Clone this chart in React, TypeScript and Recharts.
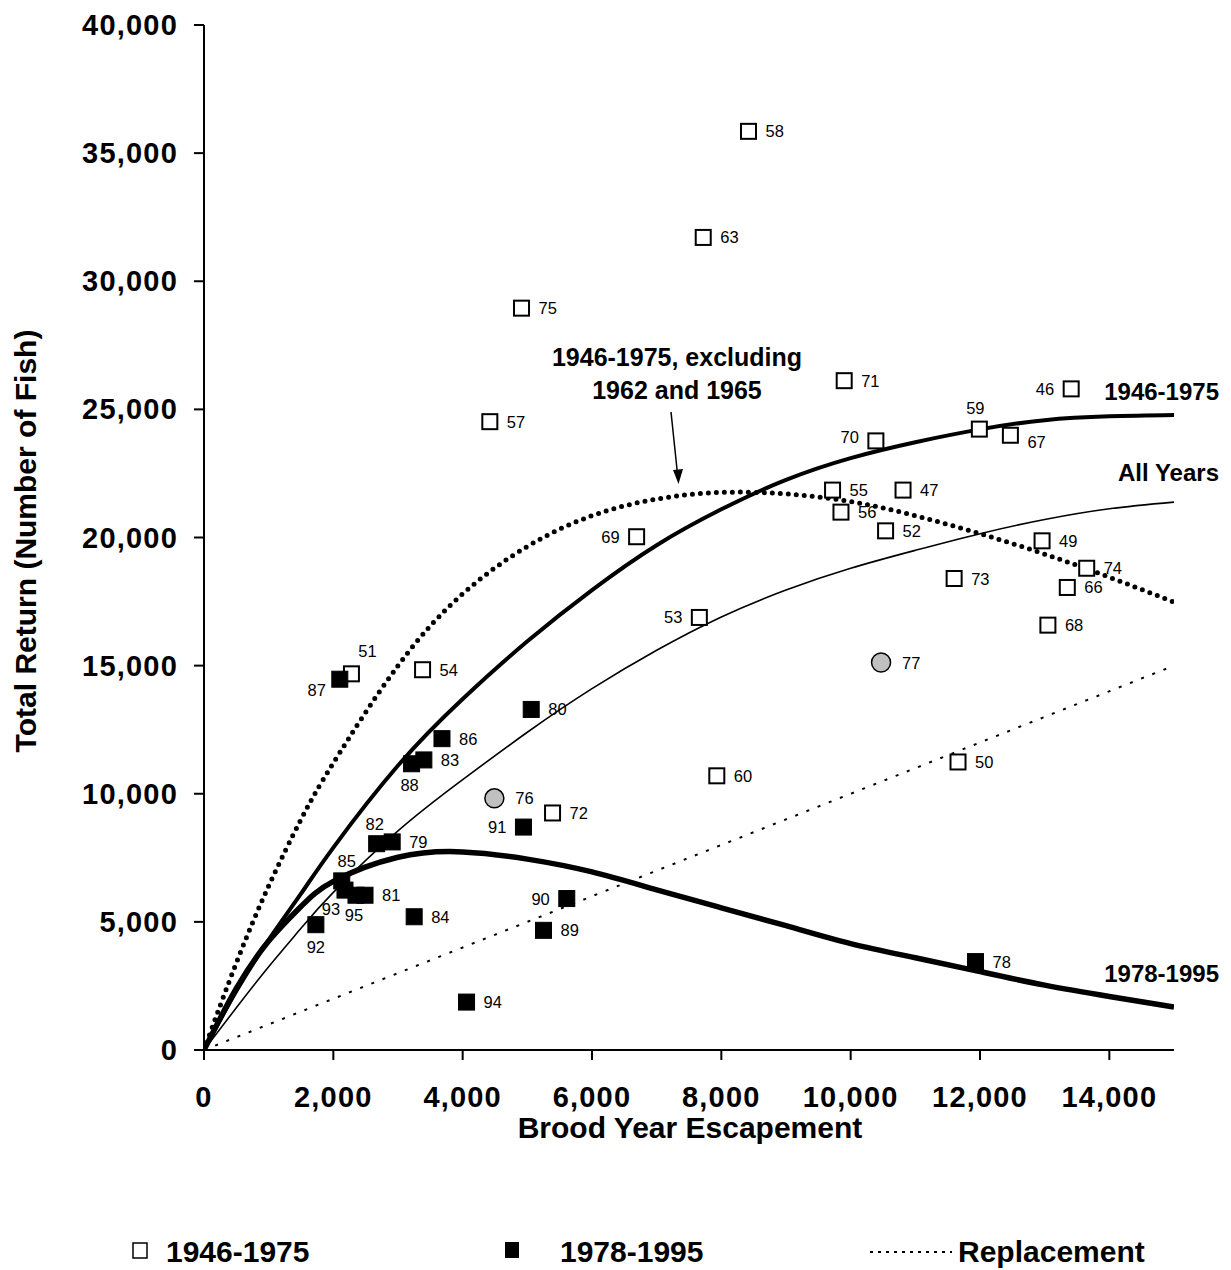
import { ComposedChart, Line, Scatter, XAxis, YAxis } from "recharts";

const FONT = "'Liberation Sans', Arial, sans-serif";

// 1946-1975 brood years (open squares)
const earlyYears = ["46", "47", "49", "50", "51", "52", "53", "54", "55", "56", "57", "58", "59", "60", "63", "66", "67", "68", "69", "70", "71", "72", "73", "74", "75"];
const earlyEscapement = [13410, 10810, 12960, 11660, 2280, 10540, 7660, 3380, 9720, 9850, 4420, 8420, 11990, 7930, 7720, 13350, 12470, 13050, 6690, 10390, 9900, 5390, 11600, 13650, 4910];
const earlyReturn = [25800, 21850, 19870, 11240, 14680, 20260, 16880, 14840, 21850, 20990, 24520, 35850, 24230, 10700, 31710, 18050, 23990, 16580, 20030, 23770, 26120, 9250, 18400, 18800, 28950];

// 1978-1995 brood years (filled squares)
const lateYears = ["78", "79", "80", "81", "82", "83", "84", "85", "86", "87", "88", "89", "90", "91", "92", "93", "94", "95"];
const lateEscapement = [11930, 2910, 5060, 2490, 2670, 3400, 3250, 2130, 3680, 2100, 3210, 5250, 5610, 4940, 1730, 2180, 4060, 2350];
const lateReturn = [3450, 8120, 13290, 6040, 8050, 11320, 5200, 6600, 12150, 14470, 11170, 4670, 5910, 8700, 4890, 6240, 1870, 6040];

// 1976-1977 (grey circles)
const midYears = ["76", "77"];
const midEscapement = [4490, 10470];
const midReturn = [9820, 15120];

// fitted curves
const curveEscapement = [0, 500, 1000, 1500, 2000, 3000, 4000, 5000, 6000, 7000, 8000, 9000, 10000, 11000, 12000, 13000, 14000, 15000];
const fitEarly = [0, 2300, 4300, 6100, 7900, 11100, 13700, 15950, 17950, 19700, 21100, 22250, 23100, 23720, 24220, 24580, 24730, 24780];
const fitAll = [0, 1650, 3250, 4750, 6150, 8550, 10550, 12400, 14100, 15600, 16900, 17950, 18800, 19500, 20150, 20700, 21120, 21380];
const fitExcluding = [0, 3400, 6400, 9000, 11200, 15000, 17800, 19650, 20850, 21500, 21760, 21700, 21400, 20850, 20150, 19350, 18450, 17480];
const fitLate = [0, 2400, 4250, 5600, 6580, 7520, 7730, 7450, 6950, 6250, 5550, 4850, 4150, 3600, 3060, 2530, 2090, 1680];

const replacementX = [0, 15000];
const replacementY = [0, 15000];

const xTicks = [0, 2000, 4000, 6000, 8000, 10000, 12000, 14000];
const yTicks = [0, 5000, 10000, 15000, 20000, 25000, 30000, 35000, 40000];

const toPoints = (names: string[], xs: number[], ys: number[]) =>
  xs.map((x, i) => ({ year: names[i], x, y: ys[i] }));
const toCurve = (xs: number[], ys: number[]) => xs.map((x, i) => ({ x, y: ys[i] }));

// where the year label sits relative to its marker
type Spot = { dx: number; dy: number; anchor: "start" | "middle" | "end" };
const LEFT: Spot = { dx: -17, dy: 6, anchor: "end" };
const labelSpots: Record<string, Spot> = {
  "51": { dx: 16, dy: -17, anchor: "middle" },
  "87": { dx: -23, dy: 17, anchor: "middle" },
  "88": { dx: -2, dy: 27, anchor: "middle" },
  "82": { dx: -2, dy: -14, anchor: "middle" },
  "85": { dx: 5, dy: -14, anchor: "middle" },
  "93": { dx: -14, dy: 25, anchor: "middle" },
  "95": { dx: -2, dy: 26, anchor: "middle" },
  "92": { dx: 0, dy: 28, anchor: "middle" },
  "59": { dx: -4, dy: -15, anchor: "middle" },
  "67": { dx: 17, dy: 13, anchor: "start" },
  "70": { dx: -17, dy: 2, anchor: "end" },
  "46": LEFT,
  "69": LEFT,
  "53": LEFT,
  "91": LEFT,
  "90": LEFT,
};

const YearLabel = ({ cx, cy, year, gap }: { cx: number; cy: number; year: string; gap: number }) => {
  const s = labelSpots[year] ?? { dx: gap, dy: 6, anchor: "start" };
  return (
    <text x={cx + s.dx} y={cy + s.dy} textAnchor={s.anchor} fontFamily={FONT} fontSize={16.5} fill="#000">
      {year}
    </text>
  );
};

const OpenSquare = (props: any) => {
  const { cx, cy, payload } = props;
  return (
    <g>
      <rect x={cx - 7.5} y={cy - 7.5} width={15} height={15} fill="#fff" stroke="#000" strokeWidth={2} />
      <YearLabel cx={cx} cy={cy} year={payload.year} gap={17} />
    </g>
  );
};

const FilledSquare = (props: any) => {
  const { cx, cy, payload } = props;
  return (
    <g>
      <rect x={cx - 8} y={cy - 8} width={16} height={16} fill="#000" stroke="#000" strokeWidth={1} />
      <YearLabel cx={cx} cy={cy} year={payload.year} gap={17} />
    </g>
  );
};

const GreyCircle = (props: any) => {
  const { cx, cy, payload } = props;
  return (
    <g>
      <circle cx={cx} cy={cy} r={9.5} fill="#c0c0c0" stroke="#000" strokeWidth={1.5} />
      <YearLabel cx={cx} cy={cy} year={payload.year} gap={21} />
    </g>
  );
};

const XTick = ({ x, y, payload }: any) => (
  <text x={x} y={y} dy={21} textAnchor="middle" fontFamily={FONT} fontWeight="bold" fontSize={29} letterSpacing={1.2} fill="#000">
    {payload.value.toLocaleString("en-US")}
  </text>
);

const YTick = ({ x, y, payload }: any) => (
  <text x={x} y={y} dy={10} textAnchor="end" fontFamily={FONT} fontWeight="bold" fontSize={29} letterSpacing={1.2} fill="#000">
    {payload.value.toLocaleString("en-US")}
  </text>
);

const Overlay = () => (
  <svg width={1231} height={1270} style={{ position: "absolute", left: 0, top: 0, pointerEvents: "none" }}>
    <g fontFamily={FONT} fontWeight="bold" fill="#000">
      <text x={690} y={1138} fontSize={30} textAnchor="middle">Brood Year Escapement</text>
      <text transform="translate(36,541) rotate(-90)" fontSize={30} textAnchor="middle">Total Return (Number of Fish)</text>

      <text x={677} y={366} fontSize={25} textAnchor="middle">1946-1975, excluding</text>
      <text x={677} y={399} fontSize={25} textAnchor="middle">1962 and 1965</text>

      <text x={1219} y={400} fontSize={24} textAnchor="end">1946-1975</text>
      <text x={1219} y={481} fontSize={24} textAnchor="end">All Years</text>
      <text x={1219} y={982} fontSize={24} textAnchor="end">1978-1995</text>

      <rect x={133} y={1243} width={14} height={15} fill="#fff" stroke="#000" strokeWidth={1.5} />
      <text x={166} y={1262} fontSize={30}>1946-1975</text>
      <rect x={505} y={1242} width={14} height={16} fill="#000" />
      <text x={560} y={1262} fontSize={30}>1978-1995</text>
      <line x1={870} y1={1252} x2={952} y2={1252} stroke="#000" strokeWidth={2} strokeDasharray="3 5" />
      <text x={958} y={1262} fontSize={30}>Replacement</text>
    </g>
    <line x1={671} y1={412} x2={677.5} y2={474} stroke="#000" strokeWidth={1.5} />
    <polygon points="678.5,484 673,470 683,469" fill="#000" />
  </svg>
);

export default function App() {
  return (
    <div style={{ position: "absolute", left: 0, top: 0, width: 1231, height: 1270, background: "#fff" }}>
      <ComposedChart width={1231} height={1270} margin={{ top: 25, right: 57, bottom: 160, left: 0 }}>
        <XAxis
          type="number"
          dataKey="x"
          domain={[0, 15000]}
          ticks={xTicks}
          allowDataOverflow
          height={60}
          stroke="#000"
          strokeWidth={2}
          tickSize={10}
          tickMargin={26}
          tick={<XTick />}
          tickLine={{ stroke: "#000", strokeWidth: 2 }}
        />
        <YAxis
          type="number"
          dataKey="y"
          domain={[0, 40000]}
          ticks={yTicks}
          allowDataOverflow
          width={204}
          stroke="#000"
          strokeWidth={2}
          tickSize={10}
          tickMargin={16}
          tick={<YTick />}
          tickLine={{ stroke: "#000", strokeWidth: 2 }}
        />
        <Line data={toCurve(replacementX, replacementY)} dataKey="y" type="linear" stroke="#000" strokeWidth={2} strokeDasharray="3 9" dot={false} activeDot={false} isAnimationActive={false} />
        <Line data={toCurve(curveEscapement, fitAll)} dataKey="y" type="natural" stroke="#000" strokeWidth={1.6} dot={false} activeDot={false} isAnimationActive={false} />
        <Line data={toCurve(curveEscapement, fitEarly)} dataKey="y" type="natural" stroke="#000" strokeWidth={4} dot={false} activeDot={false} isAnimationActive={false} />
        <Line data={toCurve(curveEscapement, fitLate)} dataKey="y" type="natural" stroke="#000" strokeWidth={5.5} dot={false} activeDot={false} isAnimationActive={false} />
        <Line data={toCurve(curveEscapement, fitExcluding)} dataKey="y" type="natural" stroke="#000" strokeWidth={5} strokeLinecap="round" strokeDasharray="0 8" dot={false} activeDot={false} isAnimationActive={false} />
        <Scatter data={toPoints(earlyYears, earlyEscapement, earlyReturn)} dataKey="y" shape={OpenSquare} isAnimationActive={false} />
        <Scatter data={toPoints(midYears, midEscapement, midReturn)} dataKey="y" shape={GreyCircle} isAnimationActive={false} />
        <Scatter data={toPoints(lateYears, lateEscapement, lateReturn)} dataKey="y" shape={FilledSquare} isAnimationActive={false} />
      </ComposedChart>
      <Overlay />
    </div>
  );
}
